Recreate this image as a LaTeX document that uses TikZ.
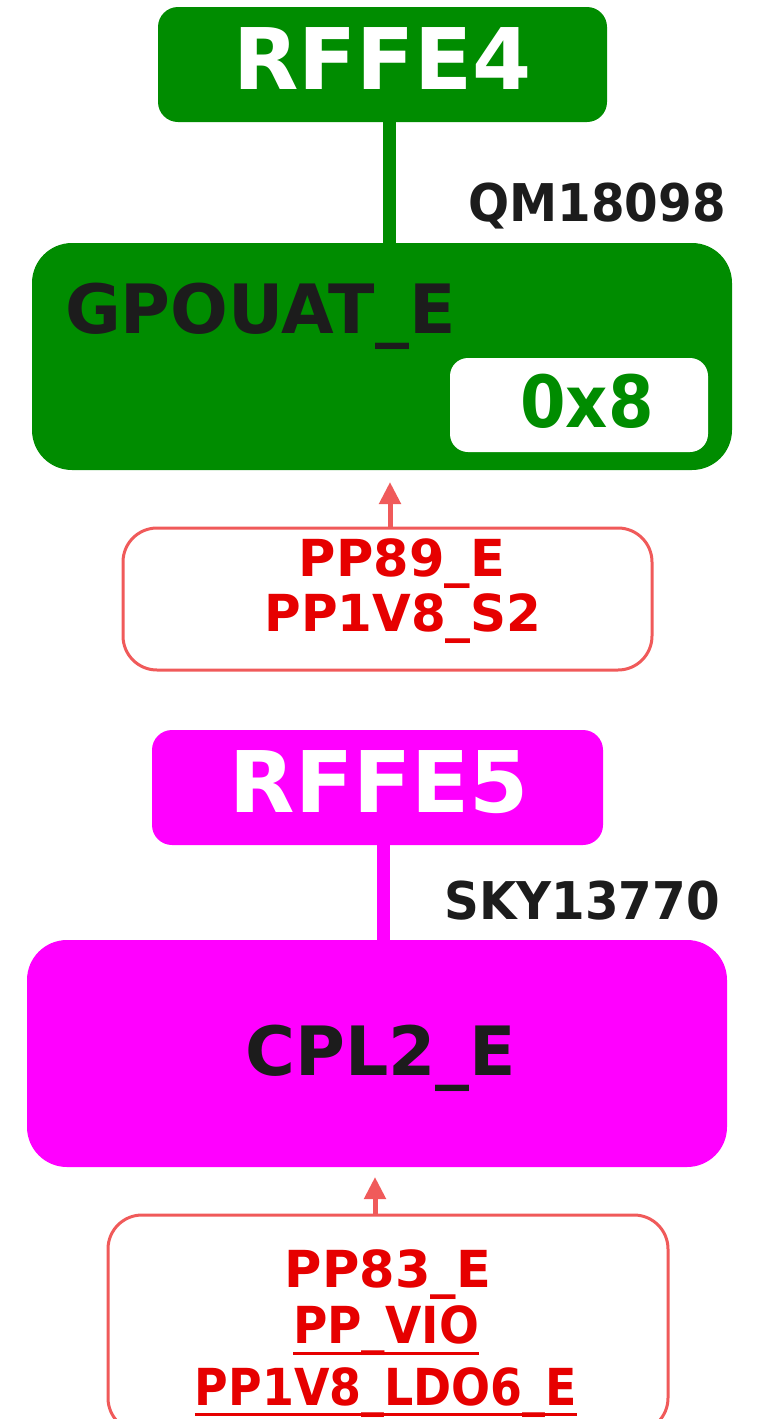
\documentclass[tikz,border=0pt]{standalone}
\usepackage{fontspec}
\setmainfont{DejaVu Sans}
\usetikzlibrary{arrows.meta}
\definecolor{gr}{RGB}{0,140,0}
\definecolor{mg}{RGB}{255,0,255}
\definecolor{sal}{RGB}{240,90,90}
\definecolor{rd}{RGB}{230,0,0}
\definecolor{dk}{RGB}{28,28,28}
\newcommand{\fs}[1]{\fontsize{#1}{#1}\selectfont\bfseries}
\newcommand{\sq}[2]{\scalebox{#1}[1]{#2}}
\begin{document}
\begin{tikzpicture}[x=1pt,y=-1pt,
  box/.style={rounded corners=#1, inner sep=0pt, outer sep=0pt},
  txt/.style={inner sep=0pt, outer sep=0pt, anchor=base},
  link/.style={line width=13pt},
  pwr/.style={draw=sal, line width=3pt, fill=white, rounded corners=34pt, inner sep=0pt},
  feed/.style={draw=sal, line width=5pt, -{Triangle[width=21pt,length=22pt]}},
  uline/.style={draw=rd, line width=3pt}
]
\useasboundingbox (0,0) rectangle (761,1419);
% ---- top group ----
\node[box=20pt, fill=gr, minimum width=449pt, minimum height=115pt] (r4) at (382.5,64.5) {};
\node[txt, text=white] (r4t) at (382.5,89) {\fs{85}RFFE4};
\node[box=40pt, fill=gr, minimum width=700pt, minimum height=227pt] (gp) at (382,356.5) {};
\draw[gr, link] (r4.south -| 389,0) -- (gp.north -| 389,0);
\node[txt, text=dk] (qm) at (597,221) {\fs{52}\sq{0.93}{QM18098}};
\node[txt, text=dk, anchor=base west] (gpt) at (65,333) {\fs{68}GPOUAT\_E};
\node[box=18pt, fill=white, minimum width=258pt, minimum height=94pt] (addr) at (579,405) {};
\node[txt, text=gr] (addrt) at (587,427) {\fs{72}\sq{0.91}{0x8}};
\node[pwr, minimum width=529pt, minimum height=142pt] (p1) at (387.5,599) {};
\node[txt, text=rd] (p1a) at (402,576) {\fs{51}PP89\_E};
\node[txt, text=rd] (p1b) at (403,631) {\fs{51}\sq{0.98}{PP1V8\_S2}};
\coordinate (a1) at (390,482);
\draw[feed] (p1.north -| a1) -- (a1);
% ---- bottom group ----
\node[box=20pt, fill=mg, minimum width=451pt, minimum height=115pt] (r5) at (377.5,787.5) {};
\node[txt, text=white] (r5t) at (379,812) {\fs{85}RFFE5};
\node[box=40pt, fill=mg, minimum width=700pt, minimum height=227pt] (cp) at (377,1053.5) {};
\draw[mg, link] (r5.south -| 383,0) -- (cp.north -| 383,0);
\node[txt, text=dk] (sky) at (582,919) {\fs{52}\sq{0.93}{SKY13770}};
\node[txt, text=dk] (cpt) at (381,1075) {\fs{68}CPL2\_E};
\node[pwr, minimum width=560pt, minimum height=217pt] (p2) at (388,1323.5) {};
\node[txt, text=rd] (p2a) at (388,1287) {\fs{51}PP83\_E};
\node[txt, text=rd] (p2b) at (386,1343) {\fs{51}\sq{0.92}{PP\_VIO}};
\node[txt, text=rd] (p2c) at (386,1405) {\fs{51}\sq{0.9}{PP1V8\_LDO6\_E}};
\draw[uline] ([yshift=-10pt]p2b.base west) -- ([yshift=-10pt]p2b.base east);
\draw[uline] ([yshift=-9pt]p2c.base west) -- ([yshift=-9pt]p2c.base east);
\coordinate (a2) at (375,1177);
\draw[feed] (p2.north -| a2) -- (a2);
\end{tikzpicture}
\end{document}
